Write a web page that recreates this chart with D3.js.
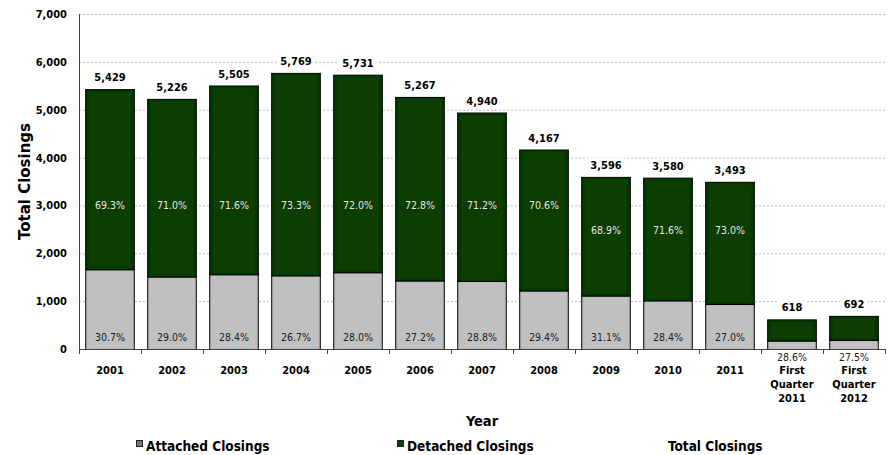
<!DOCTYPE html>
<html>
<head>
<meta charset="utf-8">
<script src="https://cdn.jsdelivr.net/npm/d3@7"></script>
<style>
  html, body { margin: 0; padding: 0; background: #fff; }
  svg text { font-family: "DejaVu Sans Condensed", "DejaVu Sans", sans-serif; font-stretch: condensed; }
</style>
</head>
<body>
<svg id="chart" width="890" height="455"></svg>
<script>
// Closings by year, split into attached and detached homes
const categories = ["2001", "2002", "2003", "2004", "2005", "2006", "2007", "2008", "2009", "2010", "2011",
                    "First\nQuarter\n2011", "First\nQuarter\n2012"];
const totalClosings = [5429, 5226, 5505, 5769, 5731, 5267, 4940, 4167, 3596, 3580, 3493, 618, 692];
const attachedClosings = [1667, 1516, 1563, 1540, 1605, 1433, 1423, 1225, 1118, 1017, 943, 177, 190];
const detachedClosings = [3762, 3710, 3942, 4229, 4126, 3834, 3517, 2942, 2478, 2563, 2550, 441, 502];
const attachedShare = ["30.7%", "29.0%", "28.4%", "26.7%", "28.0%", "27.2%", "28.8%", "29.4%", "31.1%", "28.4%", "27.0%", "28.6%", "27.5%"];
const detachedShare = ["69.3%", "71.0%", "71.6%", "73.3%", "72.0%", "72.8%", "71.2%", "70.6%", "68.9%", "71.6%", "73.0%", "", ""];
const yTicks = [0, 1000, 2000, 3000, 4000, 5000, 6000, 7000];
const legendItems = ["Attached Closings", "Detached Closings", "Total Closings"];

const rows = categories.map((c, i) => ({
  cat: c,
  total: totalClosings[i],
  attached: attachedClosings[i],
  detached: detachedClosings[i],
  aPct: attachedShare[i],
  dPct: detachedShare[i]
}));

const svg = d3.select("#chart");
const margin = { left: 79, right: 5, top: 14, bottom: 106 };
const W = 890, H = 455;

const x = d3.scaleBand()
  .domain(categories)
  .range([margin.left, W - margin.right])
  .paddingInner(0.2)
  .paddingOuter(0.1);

const y = d3.scaleLinear()
  .domain([0, 7000])
  .range([H - margin.bottom, margin.top]);

const colors = { attached: "#c0c0c0", detached: "#0e3c06" };

// inner shading along bar edges
const defs = svg.append("defs");
const f = defs.append("filter").attr("id", "innerShade")
  .attr("x", "-10%").attr("y", "-10%").attr("width", "120%").attr("height", "120%");
f.append("feFlood").attr("flood-color", "#000").attr("flood-opacity", 0.55).attr("result", "flood");
f.append("feComposite").attr("in", "flood").attr("in2", "SourceAlpha").attr("operator", "out").attr("result", "outside");
f.append("feGaussianBlur").attr("in", "outside").attr("stdDeviation", 1.6).attr("result", "blur");
f.append("feComposite").attr("in", "blur").attr("in2", "SourceAlpha").attr("operator", "in").attr("result", "inner");
const fm = f.append("feMerge");
fm.append("feMergeNode").attr("in", "SourceGraphic");
fm.append("feMergeNode").attr("in", "inner");

// horizontal dashed gridlines
svg.append("g").selectAll("line")
  .data(yTicks.filter(t => t > 0))
  .join("line")
  .attr("x1", margin.left).attr("x2", W - margin.right)
  .attr("y1", d => y(d) + 0.5).attr("y2", d => y(d) + 0.5)
  .attr("stroke", "#bdbdbd")
  .attr("stroke-dasharray", "2,2")
  .attr("stroke-width", 1);

// y axis labels
const yAxis = svg.append("g")
  .attr("transform", `translate(${margin.left},0)`)
  .call(d3.axisLeft(y).tickValues(yTicks).tickFormat(d3.format(",")).tickSize(0).tickPadding(12));
yAxis.select(".domain").remove();
yAxis.selectAll("text")
  .attr("font-size", 11).attr("font-weight", "bold").attr("fill", "#000")
  .style("font-family", null);

// stacked bars
const stack = d3.stack().keys(["attached", "detached"]);
const series = stack(rows);

svg.append("g").selectAll("g")
  .data(series)
  .join("g")
  .attr("fill", s => colors[s.key])
  .selectAll("rect")
  .data(s => s.map(d => ({ d0: d[0], d1: d[1], cat: d.data.cat })))
  .join("rect")
  .attr("x", d => x(d.cat) + 0.5)
  .attr("y", d => y(d.d1) + 0.5)
  .attr("width", x.bandwidth() - 1)
  .attr("height", d => y(d.d0) - y(d.d1))
  .attr("stroke", "#111")
  .attr("stroke-width", 1)
  .attr("filter", "url(#innerShade)");

// axis lines
const y0 = y(0);
svg.append("line")
  .attr("x1", margin.left + 0.5).attr("x2", margin.left + 0.5)
  .attr("y1", y(7000)).attr("y2", y0 + 0.5)
  .attr("stroke", "#444");
svg.append("line")
  .attr("x1", margin.left).attr("x2", W - margin.right)
  .attr("y1", y0 + 0.5).attr("y2", y0 + 0.5)
  .attr("stroke", "#444");

// category boundary ticks
const step = x.step();
const boundaries = categories.map(c => x(c) - step * x.paddingInner() / 2).concat([W - margin.right]);
svg.append("g").selectAll("line")
  .data(boundaries)
  .join("line")
  .attr("x1", d => Math.round(d) + 0.5).attr("x2", d => Math.round(d) + 0.5)
  .attr("y1", y0).attr("y2", y0 + 5)
  .attr("stroke", "#444");

// category labels
const catG = svg.append("g");
rows.forEach(r => {
  const lines = r.cat.split("\n");
  const t = catG.append("text")
    .attr("x", x(r.cat) + x.bandwidth() / 2)
    .attr("y", 374)
    .attr("text-anchor", "middle")
    .attr("font-size", 11).attr("font-weight", "bold").attr("fill", "#000");
  lines.forEach((ln, i) => {
    t.append("tspan").attr("x", x(r.cat) + x.bandwidth() / 2).attr("dy", i === 0 ? 0 : 14).text(ln);
  });
});

// total labels above each bar, on a white patch
const totG = svg.append("g");
rows.forEach(r => {
  const cx = x(r.cat) + x.bandwidth() / 2;
  const ty = y(r.total) - 8;
  const g = totG.append("g");
  const txt = g.append("text")
    .attr("x", cx).attr("y", ty)
    .attr("text-anchor", "middle")
    .attr("font-size", 11).attr("font-weight", "bold").attr("fill", "#000")
    .text(d3.format(",")(r.total));
  const bb = txt.node().getBBox();
  g.insert("rect", "text")
    .attr("x", bb.x - 3).attr("y", bb.y - 1)
    .attr("width", bb.width + 6).attr("height", bb.height + 2)
    .attr("fill", "#fff");
});

// share labels inside the segments
const pctG = svg.append("g");
rows.forEach(r => {
  const cx = x(r.cat) + x.bandwidth() / 2;
  // attached share: inside the segment's base, or under the axis when the segment is too thin
  const segH = y(0) - y(r.attached);
  const ay = segH > 20 ? y0 - 8 : y0 + 12;
  pctG.append("text")
    .attr("x", cx).attr("y", ay)
    .attr("text-anchor", "middle")
    .attr("font-size", 10.5).attr("fill", "#222")
    .text(r.aPct);
  if (r.dPct) {
    // detached share sits at a common height within the dark section
    const level = r.total > 4000 ? 3000 : 2480;
    pctG.append("text")
      .attr("x", cx).attr("y", y(level) + 4)
      .attr("text-anchor", "middle")
      .attr("font-size", 10.5).attr("fill", "#e6e6e6")
      .text(r.dPct);
  }
});

// axis titles
const plotMidX = (margin.left + W - margin.right) / 2;
svg.append("text")
  .attr("x", plotMidX).attr("y", 426)
  .attr("text-anchor", "middle")
  .attr("font-size", 14.5).attr("font-weight", "bold").attr("fill", "#000")
  .text("Year");
svg.append("text")
  .attr("transform", `translate(30,${(y(0) + y(7000)) / 2}) rotate(-90)`)
  .attr("text-anchor", "middle")
  .attr("font-size", 15).attr("font-weight", "bold").attr("fill", "#000")
  .style("font-stretch", "normal")
  .style("font-family", "'DejaVu Sans', sans-serif")
  .text("Total Closings");

// legend
const legendX = [136, 397, 668];
const legendSwatch = ["#777", colors.detached, null];
legendItems.forEach((name, i) => {
  const g = svg.append("g").attr("transform", `translate(${legendX[i]},0)`);
  let tx = 0;
  if (legendSwatch[i]) {
    g.append("rect").attr("x", 0.5).attr("y", 440.5).attr("width", 6).attr("height", 6)
      .attr("fill", legendSwatch[i]).attr("stroke", "#222").attr("stroke-width", 1);
    tx = 10;
  }
  g.append("text")
    .attr("x", tx).attr("y", 451)
    .attr("font-size", 13.5).attr("font-weight", "bold").attr("fill", "#000")
    .text(name);
});
</script>
</body>
</html>
